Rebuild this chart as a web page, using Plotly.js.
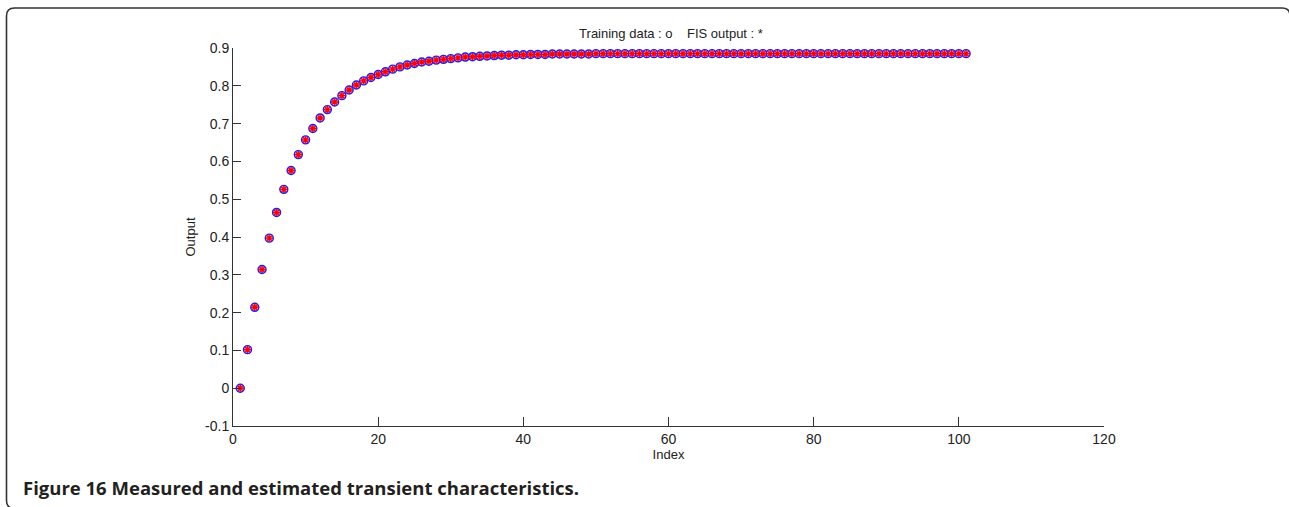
<!DOCTYPE html>
<html>
<head>
<meta charset="utf-8">
<script src="https://cdn.plot.ly/plotly-3.0.1.min.js"></script>
<style>
  html, body { margin: 0; padding: 0; background: #ffffff; }
  #chart { width: 1289px; height: 507px; }
</style>
</head>
<body>
<div id="chart"></div>
<script>
// ---- data ----
const indexValues = [];
for (let i = 1; i <= 101; i++) indexValues.push(i);

const trainingData = [
  0.000, 0.102, 0.214, 0.314, 0.397, 0.465, 0.526, 0.576, 0.618, 0.657,
  0.687, 0.715, 0.737, 0.757, 0.774, 0.789, 0.802, 0.813, 0.822, 0.830,
  0.837, 0.844, 0.850, 0.855, 0.859, 0.863, 0.865, 0.868, 0.870, 0.872,
  0.874, 0.876, 0.877, 0.878, 0.879, 0.880, 0.881, 0.881, 0.882, 0.882,
  0.883, 0.883, 0.883, 0.884, 0.884, 0.884, 0.884, 0.884, 0.884, 0.885,
  0.885, 0.885, 0.885, 0.885, 0.885, 0.885, 0.885, 0.885, 0.885, 0.885,
  0.885, 0.885, 0.885, 0.885, 0.885, 0.885, 0.885, 0.885, 0.885, 0.885,
  0.885, 0.885, 0.885, 0.885, 0.885, 0.885, 0.885, 0.885, 0.885, 0.885,
  0.885, 0.885, 0.885, 0.885, 0.885, 0.885, 0.885, 0.885, 0.885, 0.885,
  0.885, 0.885, 0.885, 0.885, 0.885, 0.885, 0.885, 0.885, 0.885, 0.885,
  0.885
];

const fisOutput = [
  0.000, 0.102, 0.214, 0.314, 0.397, 0.465, 0.526, 0.576, 0.618, 0.657,
  0.687, 0.715, 0.737, 0.757, 0.774, 0.789, 0.802, 0.813, 0.822, 0.830,
  0.837, 0.844, 0.850, 0.855, 0.859, 0.863, 0.865, 0.868, 0.870, 0.872,
  0.874, 0.876, 0.877, 0.878, 0.879, 0.880, 0.881, 0.881, 0.882, 0.882,
  0.883, 0.883, 0.883, 0.884, 0.884, 0.884, 0.884, 0.884, 0.884, 0.885,
  0.885, 0.885, 0.885, 0.885, 0.885, 0.885, 0.885, 0.885, 0.885, 0.885,
  0.885, 0.885, 0.885, 0.885, 0.885, 0.885, 0.885, 0.885, 0.885, 0.885,
  0.885, 0.885, 0.885, 0.885, 0.885, 0.885, 0.885, 0.885, 0.885, 0.885,
  0.885, 0.885, 0.885, 0.885, 0.885, 0.885, 0.885, 0.885, 0.885, 0.885,
  0.885, 0.885, 0.885, 0.885, 0.885, 0.885, 0.885, 0.885, 0.885, 0.885,
  0.885
];

const xTickVals = [0, 20, 40, 60, 80, 100, 120];
const xTickText = ['0', '20', '40', '60', '80', '100', '120'];
const yTickVals = [-0.1, 0, 0.1, 0.2, 0.3, 0.4, 0.5, 0.6, 0.7, 0.8, 0.9];
const yTickText = ['-0.1', '0', '0.1', '0.2', '0.3', '0.4', '0.5', '0.6', '0.7', '0.8', '0.9'];

const chartTitle = 'Training data : o\u00a0\u00a0\u00a0\u00a0FIS output : *';
const xTitle = 'Index';
const yTitle = 'Output';
const captionBold = 'Figure 16';
const captionText = 'Measured and estimated transient characteristics.';

// ---- layout helpers (pixel -> paper) ----
const W = 1289, H = 507;
const M = { l: 233, r: 185, t: 48, b: 81 };
const PW = W - M.l - M.r, PH = H - M.t - M.b;
const px = x => (x - M.l) / PW;
const py = y => (H - M.b - y) / PH;

function framePath() {
  const L = 6.5, T = 8, R = 1290, B = 508.5, rad = 8;
  const p = [];
  p.push('M', px(R), py(B));
  p.push('L', px(L + rad), py(B));
  p.push('Q', px(L), py(B), px(L), py(B - rad));
  p.push('L', px(L), py(T + rad));
  p.push('Q', px(L), py(T), px(L + rad), py(T));
  p.push('L', px(R - rad), py(T));
  p.push('Q', px(R), py(T), px(R), py(T + rad));
  return p.join(' ');
}

const fontFam = '"Liberation Sans", Arial, sans-serif';

const traces = [
  {
    type: 'scatter',
    mode: 'markers',
    name: 'Training data',
    x: indexValues,
    y: trainingData,
    marker: { symbol: 'circle', size: 8, color: 'rgba(160,140,235,0.55)',
              line: { color: '#1a1aff', width: 1.4 } },
    hoverinfo: 'x+y'
  },
  {
    type: 'scatter',
    mode: 'markers',
    name: 'FIS output',
    x: indexValues,
    y: fisOutput,
    marker: { symbol: 'asterisk-open', size: 6, color: '#ff0000',
              line: { color: '#ff0000', width: 1.4 } },
    hoverinfo: 'x+y'
  }
];

const layout = {
  width: W,
  height: H,
  margin: M,
  paper_bgcolor: '#ffffff',
  plot_bgcolor: '#ffffff',
  showlegend: false,
  font: { family: fontFam, size: 14, color: '#222222' },
  title: {
    text: chartTitle,
    font: { family: fontFam, size: 13, color: '#222222' },
    x: px(671), xref: 'paper', xanchor: 'center',
    y: 1 - 33 / H, yref: 'container', yanchor: 'middle'
  },
  xaxis: {
    range: [0, 120],
    tickvals: xTickVals,
    ticktext: xTickText,
    ticks: 'inside',
    ticklen: 9,
    tickwidth: 1,
    tickcolor: '#333333',
    showline: true,
    linecolor: '#333333',
    linewidth: 1,
    showgrid: false,
    zeroline: false,
    mirror: false,
    tickfont: { family: fontFam, size: 14, color: '#222222' },
    title: { text: xTitle, font: { family: fontFam, size: 13, color: '#222222' }, standoff: 3 }
  },
  yaxis: {
    range: [-0.1, 0.9],
    tickvals: yTickVals,
    ticktext: yTickText,
    ticks: 'inside',
    ticklen: 8,
    tickwidth: 1,
    tickcolor: '#333333',
    showline: true,
    linecolor: '#333333',
    linewidth: 1,
    showgrid: false,
    zeroline: false,
    mirror: false,
    tickfont: { family: fontFam, size: 14, color: '#222222' },
    title: { text: yTitle, font: { family: fontFam, size: 13, color: '#222222' }, standoff: 6 }
  },
  shapes: [
    {
      type: 'path',
      xref: 'paper', yref: 'paper',
      path: framePath(),
      line: { color: '#333333', width: 1.6 },
      fillcolor: 'rgba(0,0,0,0)'
    }
  ],
  annotations: [
    {
      xref: 'paper', yref: 'paper',
      x: px(21), y: py(487),
      xanchor: 'left', yanchor: 'middle',
      showarrow: false,
      align: 'left',
      text: '<b>' + captionBold + ' ' + captionText + '</b>',
      font: { family: '"Open Sans", "Noto Sans", sans-serif', size: 18.5, color: '#231f20' }
    }
  ]
};

Plotly.newPlot('chart', traces, layout, { displayModeBar: false, staticPlot: true });
</script>
</body>
</html>
